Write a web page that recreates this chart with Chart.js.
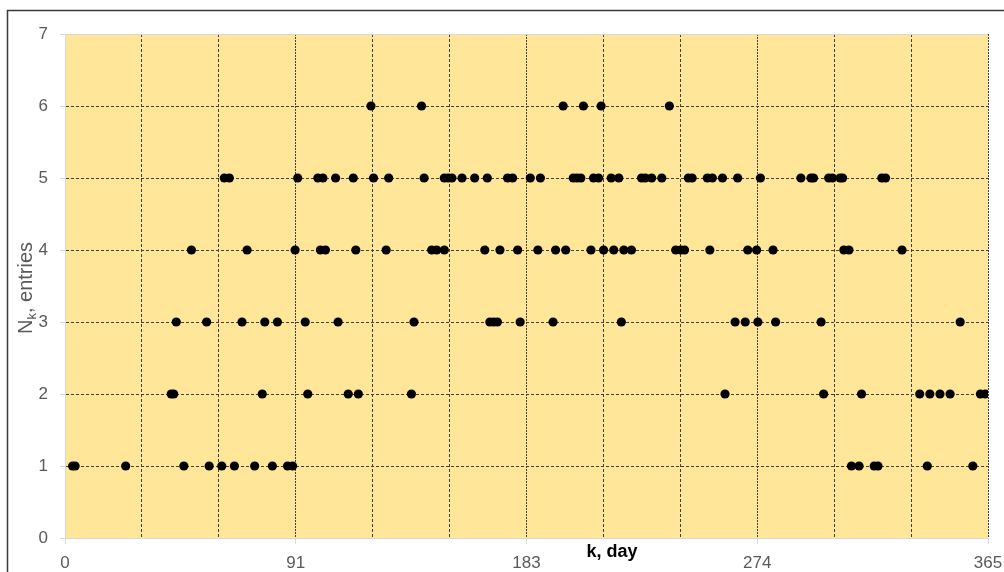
<!DOCTYPE html>
<html>
<head>
<meta charset="utf-8">
<title>N_k entries per day</title>
<script src="https://cdn.jsdelivr.net/npm/chart.js@4.4.1/dist/chart.umd.min.js"></script>
<style>
  html, body { margin: 0; padding: 0; background: #fff; }
  #wrap { position: relative; width: 1004px; height: 572px; overflow: hidden; }
  canvas { position: absolute; left: 0; top: 0; }
</style>
</head>
<body>
<div id="wrap"><canvas id="chart" width="1004" height="572"></canvas></div>
<script>
(function () {
  "use strict";

  // Days (k) on which N_k took each value.
  const daysAt1 = [3, 4, 24, 47, 57, 62, 67, 75, 82, 88, 90, 311, 314, 320, 321.5, 341, 359];
  const daysAt2 = [42, 43, 78, 96, 112, 116, 137, 261, 300, 315, 338, 342, 346, 350, 362, 364];
  const daysAt3 = [44, 56, 70, 79, 84, 95, 108, 138, 168, 169.5, 171, 180, 193, 220,
    265, 269, 274, 281, 299, 354];
  const daysAt4 = [50, 72, 91, 101, 103, 115, 127, 145, 147, 150, 166, 172, 179, 187, 194,
    198, 208, 213, 217, 221, 224, 241.5, 243.5, 245, 255, 270, 273.5, 280, 308, 310, 331];
  const daysAt5 = [63, 65, 92, 100, 102, 107, 114, 122, 128, 142, 150, 151.5, 153, 157, 162,
    167, 175, 177, 184, 188, 201, 202.5, 204, 209, 211, 216, 219, 228, 229.5, 232, 236,
    246.5, 248, 254, 256, 260, 266, 275, 291, 295, 296, 302, 303.5, 306.5, 307.5, 323, 324.5];
  const daysAt6 = [121, 141, 197, 205, 212, 239];

  const levels = [1, 2, 3, 4, 5, 6];
  const daysByLevel = [daysAt1, daysAt2, daysAt3, daysAt4, daysAt5, daysAt6];

  // Axis values: x gridlines every month (12 per year), labels every quarter.
  const daysInYear = 365;
  const monthsInYear = 12;
  const xTickLabels = ["0", "91", "183", "274", "365"];
  const yMin = 0;
  const yMax = 7;

  // ----------------------------------------------------------------- style

  const COLORS = {
    plotBg: "#FFE699",
    grid: "#404040",
    axis: "#d9d9d9",
    tick: "#595959",
    title: "#000000",
    dot: "#000000",
    frame: "#3a3a3a",
  };
  const FONT = '"Liberation Sans", Arial, Helvetica, sans-serif';
  const NONE = "rgba(0,0,0,0)";

  // Flatten the per-level arrays into scatter points.
  const points = [];
  levels.forEach(function (n, i) {
    daysByLevel[i].forEach(function (d) { points.push({ x: d, y: n }); });
  });

  const monthTicks = [];
  for (let i = 0; i <= monthsInYear; i++) monthTicks.push(i * daysInYear / monthsInYear);

  // Outer frame + yellow plot area, drawn under everything else.
  const backdrop = {
    id: "backdrop",
    beforeDraw: function (chart) {
      const ctx = chart.ctx;
      const a = chart.chartArea;
      ctx.save();
      ctx.strokeStyle = COLORS.frame;
      ctx.lineWidth = 1.5;
      ctx.strokeRect(7.5, 10.5, 2000, 2000);
      ctx.fillStyle = COLORS.plotBg;
      ctx.fillRect(a.left, a.top, a.right - a.left, a.bottom - a.top);
      ctx.restore();
    },
  };

  // Axis titles: "N_k, entries" (with subscript) and the bold "k, day".
  const axisTitles = {
    id: "axisTitles",
    afterDraw: function (chart) {
      const ctx = chart.ctx;
      ctx.save();
      ctx.fillStyle = COLORS.tick;
      ctx.translate(32, 334);
      ctx.rotate(-Math.PI / 2);
      ctx.textAlign = "left";
      ctx.textBaseline = "alphabetic";
      ctx.font = "20px " + FONT;
      ctx.fillText("N", 0, 0);
      let w = ctx.measureText("N").width;
      ctx.font = "13px " + FONT;
      ctx.fillText("k", w, 4);
      w += ctx.measureText("k").width;
      ctx.font = "20px " + FONT;
      ctx.fillText(", entries", w, 0);
      ctx.restore();

      ctx.save();
      ctx.fillStyle = COLORS.title;
      ctx.font = "bold 18px " + FONT;
      ctx.textAlign = "center";
      ctx.textBaseline = "alphabetic";
      ctx.fillText("k, day", 612, 557);
      ctx.restore();
    },
  };

  new Chart(document.getElementById("chart").getContext("2d"), {
    type: "scatter",
    data: {
      datasets: [{
        data: points,
        showLine: false,
        pointRadius: 4.6,
        pointHoverRadius: 4.6,
        backgroundColor: COLORS.dot,
        borderColor: COLORS.dot,
        borderWidth: 0,
      }],
    },
    options: {
      responsive: false,
      animation: false,
      events: [],
      layout: { padding: { top: 34, right: 16, left: 0, bottom: 0 } },
      scales: {
        x: {
          type: "linear",
          min: 0,
          max: daysInYear,
          afterBuildTicks: function (scale) {
            scale.ticks = monthTicks.map(function (v) { return { value: v }; });
          },
          afterFit: function (scale) {
            // fixed band under the plot; labels may spill into the padding
            scale.height = 34;
            scale.paddingLeft = 0;
            scale.paddingRight = 0;
          },
          ticks: {
            autoSkip: false,
            maxRotation: 0,
            minRotation: 0,
            padding: 9,
            color: COLORS.tick,
            font: { family: FONT, size: 17 },
            callback: function (v, i) { return i % 3 === 0 ? xTickLabels[i / 3] : ""; },
          },
          grid: {
            lineWidth: 1,
            tickLength: 6,
            color: function (c) { return c.index === 0 ? NONE : COLORS.grid; },
            tickColor: function (c) { return c.index % 3 === 0 ? COLORS.axis : NONE; },
            tickBorderDash: [],
          },
          border: {
            color: COLORS.axis,
            width: 1,
            dash: function (c) { return (c.index % 3 === 0) ? [2, 1] : [3, 2]; },
          },
        },
        y: {
          min: yMin,
          max: yMax,
          afterFit: function (scale) {
            scale.width = 65;
            scale.paddingTop = 0;
            scale.paddingBottom = 0;
          },
          ticks: {
            stepSize: 1,
            padding: 12,
            color: COLORS.tick,
            font: { family: FONT, size: 17 },
          },
          grid: {
            lineWidth: 1,
            tickLength: 5,
            color: function (c) {
              if (c.index === 0) return NONE;
              return c.index === yMax ? COLORS.axis : COLORS.grid;
            },
            tickColor: COLORS.axis,
            tickBorderDash: [],
          },
          border: {
            color: COLORS.axis,
            width: 1,
            dash: function (c) { return c.index === yMax ? [] : [3, 2]; },
          },
        },
      },
      plugins: {
        legend: { display: false },
        tooltip: { enabled: false },
        title: { display: false },
      },
    },
    plugins: [backdrop, axisTitles],
  });
})();
</script>
</body>
</html>
